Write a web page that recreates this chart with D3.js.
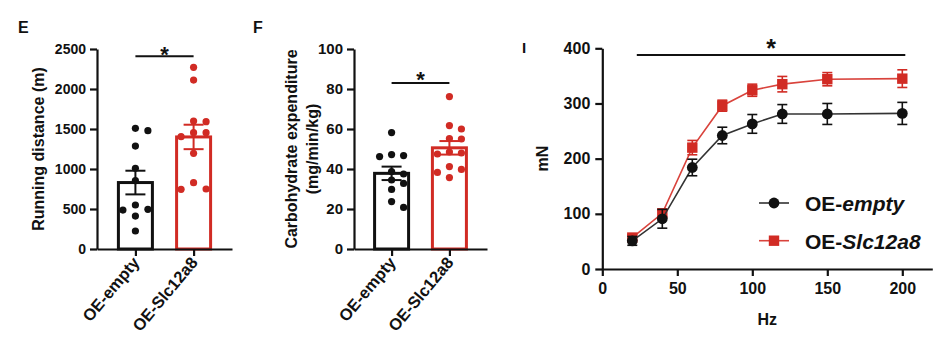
<!DOCTYPE html>
<html>
<head>
<meta charset="utf-8">
<script src="https://cdn.jsdelivr.net/npm/d3@7"></script>
<style>
  body { margin: 0; background: #fff; }
  svg { display: block; font-family: "Liberation Sans", Arial, Helvetica, sans-serif; font-weight: bold; }
</style>
</head>
<body>
<svg id="fig" width="950" height="341"></svg>
<script>
// ---- data -------------------------------------------------------------
const groups = ["OE-empty", "OE-Slc12a8"];

// E: treadmill running distance per mouse (m)
const distEmpty = [1508, 1479, 1287, 1008, 854, 550, 496, 487, 412, 225];
const distSlc   = [2271, 2112, 1600, 1592, 1454, 1454, 1404, 1196, 829, 750, 746];
const distTicks = [0, 500, 1000, 1500, 2000, 2500];
const distSig   = 2410;

// F: carbohydrate expenditure per mouse (mg/min/kg)
const carbEmpty = [58.2, 47.2, 46.7, 46.2, 38.7, 37.5, 34.5, 32.8, 29.8, 23.7, 20.8];
const carbSlc   = [76.2, 61.7, 60.0, 55.2, 55.0, 48.5, 48.0, 47.5, 41.2, 39.8, 38.3, 35.7];
const carbTicks = [0, 20, 40, 60, 80, 100];
const carbSig   = 83;

// I: force-frequency relationship (mean ± SEM, mN)
const hz        = [20, 40, 60, 80, 100, 120, 150, 200];
const forceEmptyMean = [51, 91, 184, 242, 263, 281, 281, 282];
const forceEmptySem  = [8, 17, 15, 15, 17, 17, 19, 20];
const forceSlcMean   = [57, 101, 220, 296, 324, 335, 344, 345];
const forceSlcSem    = [5, 6, 13, 10, 11, 14, 12, 16];
const forceTicks = [0, 100, 200, 300, 400];
const hzTicks    = [0, 50, 100, 150, 200];
const forceSigRange = [23, 202];
const forceSig = 388;

// ---- styling ------------------------------------------------------------
const BLACK = "#111";
const RED = "#d12b24";
const colors = [BLACK, RED];
const intFmt = d3.format("d");

const svg = d3.select("#fig");

function styleAxis(g, width) {
  g.select(".domain").attr("stroke", BLACK).attr("stroke-width", width);
  g.selectAll(".tick line").attr("stroke", BLACK).attr("stroke-width", width);
  g.selectAll(".tick text").attr("fill", BLACK);
}

// Label with the part after "OE-" optionally in italics
function groupLabel(sel, name, italic) {
  const i = name.indexOf("-");
  sel.append("tspan").text(name.slice(0, i + 1));
  sel.append("tspan").attr("font-style", italic ? "italic" : null).text(name.slice(i + 1));
}

// Beeswarm layout: sorted high to low, each dot shifted sideways until it clears the others
function swarm(values, y, cx, step, minDist) {
  const placed = [];
  values.slice().sort((a, b) => b - a).forEach(v => {
    const py = y(v);
    for (let k = 0; k < 30; k++) {
      const off = k === 0 ? 0 : (k % 2 ? Math.ceil(k / 2) : -Math.ceil(k / 2)) * step;
      const px = cx + off;
      if (placed.every(p => Math.hypot(p.x - px, p.y - py) >= minDist)) {
        placed.push({ x: px, y: py, v });
        break;
      }
    }
  });
  return placed;
}

// ---- bar + scatter panel ---------------------------------------------------
function barPanel(cfg) {
  const g = svg.append("g");
  const x = d3.scalePoint().domain(groups).range([cfg.left, cfg.right]).padding(cfg.pad);
  const y = d3.scaleLinear().domain([0, cfg.ticks[cfg.ticks.length - 1]]).range([cfg.bottom, cfg.top]);

  const sets = [cfg.a, cfg.b];
  const stats = sets.map(s => ({
    mean: d3.mean(s),
    sem: d3.deviation(s) / Math.sqrt(s.length)
  }));

  // bars
  g.selectAll("rect.bar").data(groups).join("rect")
    .attr("class", "bar")
    .attr("x", d => x(d) - cfg.bw / 2)
    .attr("width", cfg.bw)
    .attr("y", (d, i) => y(stats[i].mean))
    .attr("height", (d, i) => y(0) - y(stats[i].mean))
    .attr("fill", "#fff")
    .attr("stroke", (d, i) => colors[i])
    .attr("stroke-width", 3);

  // individual animals
  groups.forEach((grp, i) => {
    const pts = swarm(sets[i], y, x(grp), cfg.step, 7.6);
    g.selectAll(null).data(pts).join("circle")
      .attr("cx", d => d.x).attr("cy", d => d.y).attr("r", 3.6)
      .attr("fill", colors[i]);
  });

  // mean ± SEM
  groups.forEach((grp, i) => {
    const cx = x(grp), m = stats[i].mean, s = stats[i].sem;
    const eb = g.append("g").attr("stroke", colors[i]).attr("stroke-width", 2);
    eb.append("line").attr("x1", cx).attr("x2", cx).attr("y1", y(m + s)).attr("y2", y(m - s));
    [m + s, m - s].forEach(v => eb.append("line")
      .attr("x1", cx - 10).attr("x2", cx + 10).attr("y1", y(v)).attr("y2", y(v)));
  });

  // axes
  const ya = g.append("g").attr("transform", `translate(${cfg.left},0)`)
    .call(d3.axisLeft(y).tickValues(cfg.ticks).tickFormat(intFmt).tickSize(7).tickPadding(4).tickSizeOuter(0));
  ya.selectAll(".tick text").attr("font-size", cfg.tickFont);
  styleAxis(ya, 2.2);

  const xa = g.append("g").attr("transform", `translate(0,${cfg.bottom})`)
    .call(d3.axisBottom(x).tickSize(7).tickSizeOuter(0).tickFormat(""));
  styleAxis(xa, 2.2);

  groups.forEach(grp => {
    const t = g.append("text")
      .attr("transform", `translate(${x(grp) + 5},${cfg.bottom + 14}) rotate(-50)`)
      .attr("text-anchor", "end").attr("font-size", 16.5).attr("fill", BLACK);
    groupLabel(t, grp, false);
  });

  // y-axis title
  cfg.title.forEach((line, k) => {
    g.append("text")
      .attr("transform", `translate(${cfg.titleX[k]},${(cfg.top + cfg.bottom) / 2}) rotate(-90)`)
      .attr("text-anchor", "middle").attr("font-size", 16).attr("fill", BLACK)
      .text(line);
  });

  // significance bracket
  const sy = y(cfg.sig);
  g.append("line").attr("x1", x(groups[0])).attr("x2", x(groups[1]))
    .attr("y1", sy).attr("y2", sy).attr("stroke", BLACK).attr("stroke-width", 2);
  g.append("text").attr("x", (x(groups[0]) + x(groups[1])) / 2).attr("y", sy + cfg.starDy)
    .attr("text-anchor", "middle").attr("font-size", 22).attr("fill", BLACK).text("*");

  // panel letter
  g.append("text").attr("x", cfg.letterX).attr("y", 33).attr("font-size", 16)
    .attr("fill", BLACK).text(cfg.letter);
}

barPanel({
  letter: "E", letterX: 18,
  left: 97, right: 232, top: 49, bottom: 249, pad: 0.66, bw: 34, step: 12.5,
  a: distEmpty, b: distSlc, ticks: distTicks, sig: distSig, starDy: 6,
  tickFont: 14, title: ["Running distance (m)"], titleX: [44]
});

barPanel({
  letter: "F", letterX: 253,
  left: 354, right: 487, top: 49, bottom: 249, pad: 0.65, bw: 34, step: 12,
  a: carbEmpty, b: carbSlc, ticks: carbTicks, sig: carbSig, starDy: 4,
  tickFont: 15, title: ["Carbohydrate expenditure", "(mg/min/kg)"], titleX: [297, 318]
});

// ---- force-frequency panel ------------------------------------------------
(function () {
  const g = svg.append("g");
  const x = d3.scaleLinear().domain([0, 220]).range([602.3, 932.3]);
  const y = d3.scaleLinear().domain([0, 400]).range([269, 48.3]);

  const series = [
    { name: groups[1], mean: forceSlcMean, sem: forceSlcSem, color: RED, line: "#d9433c", shape: "square" },
    { name: groups[0], mean: forceEmptyMean, sem: forceEmptySem, color: BLACK, line: "#333", shape: "circle" }
  ];

  series.forEach(s => {
    const pts = hz.map((h, i) => ({ h, m: s.mean[i], e: s.sem[i] }));
    g.append("path").datum(pts)
      .attr("d", d3.line().x(d => x(d.h)).y(d => y(d.m)))
      .attr("fill", "none").attr("stroke", s.line).attr("stroke-width", 1.6);

    const eb = g.append("g").attr("stroke", s.color).attr("stroke-width", 1.6);
    pts.forEach(d => {
      eb.append("line").attr("x1", x(d.h)).attr("x2", x(d.h)).attr("y1", y(d.m + d.e)).attr("y2", y(d.m - d.e));
      [d.m + d.e, d.m - d.e].forEach(v => eb.append("line")
        .attr("x1", x(d.h) - 5).attr("x2", x(d.h) + 5).attr("y1", y(v)).attr("y2", y(v)));
    });

    if (s.shape === "circle") {
      g.selectAll(null).data(pts).join("circle")
        .attr("cx", d => x(d.h)).attr("cy", d => y(d.m)).attr("r", 5.4).attr("fill", s.color);
    } else {
      g.selectAll(null).data(pts).join("rect")
        .attr("x", d => x(d.h) - 5.2).attr("y", d => y(d.m) - 5.2)
        .attr("width", 10.4).attr("height", 10.4).attr("fill", s.color);
    }
  });

  const ya = g.append("g").attr("transform", `translate(${x(0)},0)`)
    .call(d3.axisLeft(y).tickValues(forceTicks).tickSize(7).tickPadding(5).tickSizeOuter(0));
  ya.selectAll(".tick text").attr("font-size", 16);
  styleAxis(ya, 2.2);

  const xa = g.append("g").attr("transform", `translate(0,${y(0)})`)
    .call(d3.axisBottom(x).tickValues(hzTicks).tickSize(7).tickPadding(7).tickSizeOuter(0));
  xa.selectAll(".tick text").attr("font-size", 16);
  styleAxis(xa, 2.2);

  g.append("text").attr("transform", `translate(548,${(y(0) + y(400)) / 2}) rotate(-90)`)
    .attr("text-anchor", "middle").attr("font-size", 16).attr("fill", BLACK).text("mN");
  g.append("text").attr("x", (x(0) + x(220)) / 2).attr("y", 325)
    .attr("text-anchor", "middle").attr("font-size", 16).attr("fill", BLACK).text("Hz");

  // significance across the frequency range
  const sy = y(forceSig);
  g.append("line").attr("x1", x(forceSigRange[0])).attr("x2", x(forceSigRange[1]))
    .attr("y1", sy).attr("y2", sy).attr("stroke", BLACK).attr("stroke-width", 2);
  g.append("text").attr("x", x(d3.mean(forceSigRange))).attr("y", sy + 2)
    .attr("text-anchor", "middle").attr("font-size", 25).attr("fill", BLACK).text("*");

  g.append("text").attr("x", 522).attr("y", 53).attr("font-size", 15).attr("fill", BLACK).text("I");

  // legend
  const legend = [series[1], series[0]];
  legend.forEach((s, i) => {
    const ly = [203, 240.7][i];
    const lg = g.append("g");
    lg.append("line").attr("x1", 759).attr("x2", 789).attr("y1", ly).attr("y2", ly)
      .attr("stroke", s.line).attr("stroke-width", 1.6);
    if (s.shape === "circle") {
      lg.append("circle").attr("cx", 774).attr("cy", ly).attr("r", 5.4).attr("fill", s.color);
    } else {
      lg.append("rect").attr("x", 774 - 5.2).attr("y", ly - 5.2).attr("width", 10.4).attr("height", 10.4).attr("fill", s.color);
    }
    const t = lg.append("text").attr("x", 805).attr("y", ly + 7.8).attr("font-size", 21).attr("fill", BLACK);
    groupLabel(t, s.name, true);
  });
})();
</script>
</body>
</html>
